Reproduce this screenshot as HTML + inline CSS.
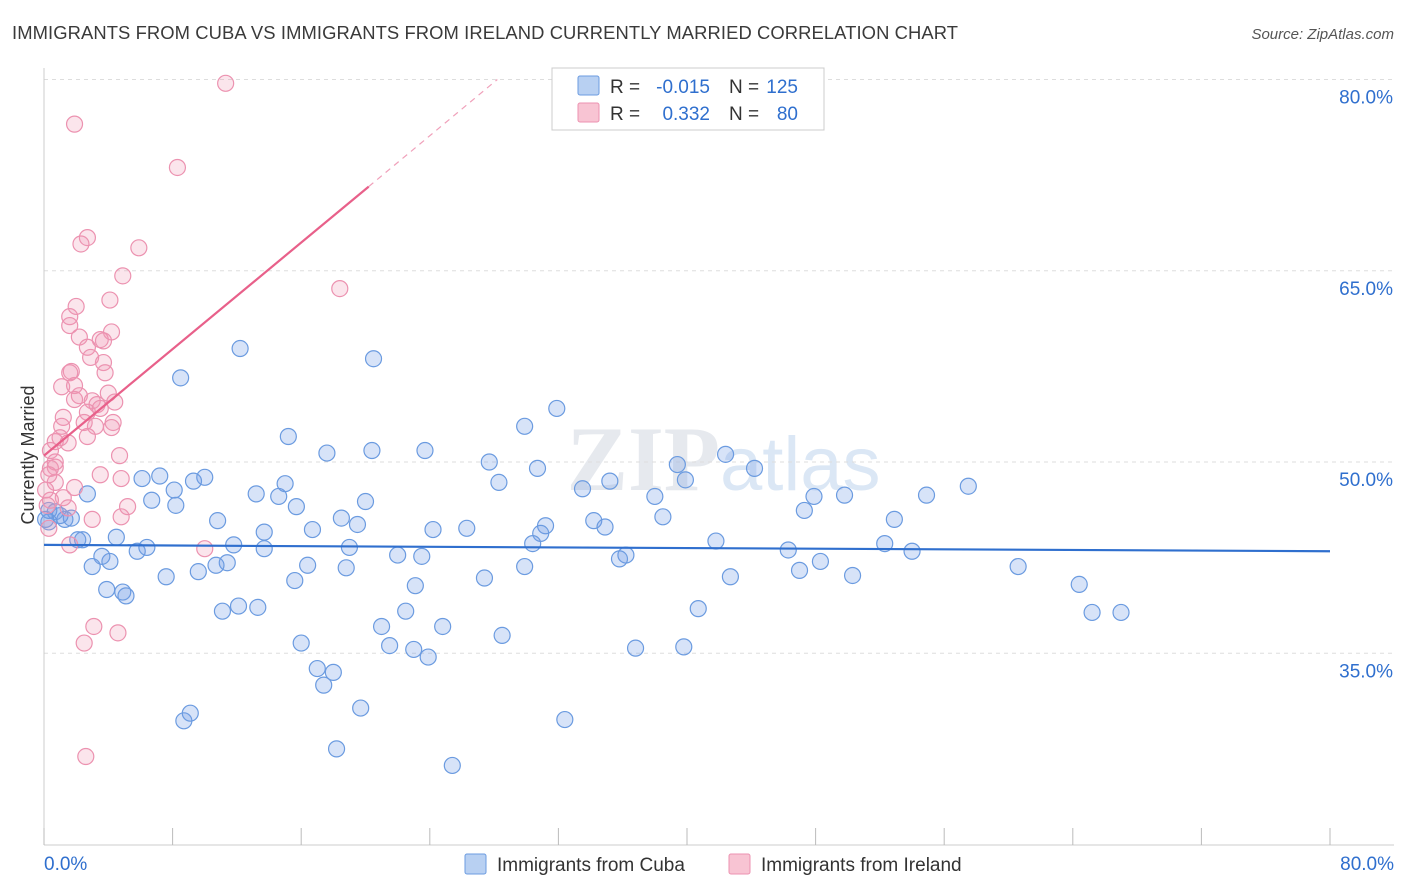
<!DOCTYPE html>
<html><head><meta charset="utf-8"><style>
body{margin:0;background:#fff;font-family:"Liberation Sans",sans-serif;}
svg{display:block}
</style></head><body>
<svg id="chart" width="1406" height="892">
<text x="12" y="39" font-size="18.4" fill="#3a3a3a" textLength="946">IMMIGRANTS FROM CUBA VS IMMIGRANTS FROM IRELAND CURRENTLY MARRIED CORRELATION CHART</text>
<text x="1394" y="39" font-size="15" fill="#555" font-style="italic" text-anchor="end">Source: ZipAtlas.com</text>
<text x="720" y="490" font-size="92" font-weight="bold" fill="#e6e9ee" text-anchor="end" font-family="Liberation Serif,serif">ZIP</text>
<text x="720" y="490" font-size="76" fill="#dbe7f5">atlas</text>
<g id="grid"></g><g id="axes"></g><g id="pts"></g><g id="trend"></g>
<text transform="translate(34,455) rotate(-90)" font-size="18" fill="#333" text-anchor="middle">Currently Married</text>
<g>
<rect x="552" y="68" width="272" height="62" fill="#fff" stroke="#ccc"/>
<rect x="578" y="76" width="21" height="19" fill="#b8d0f2" stroke="#6b9be0" rx="2"/>
<rect x="578" y="103" width="21" height="19" fill="#f8c4d3" stroke="#ec92b0" rx="2"/>
<text x="610" y="93" font-size="19" fill="#333">R =</text>
<text x="710" y="93" font-size="19" fill="#2f6fce" text-anchor="end">-0.015</text>
<text x="729" y="93" font-size="19" fill="#333">N =</text>
<text x="798" y="93" font-size="19" fill="#2f6fce" text-anchor="end">125</text>
<text x="610" y="120" font-size="19" fill="#333">R =</text>
<text x="710" y="120" font-size="19" fill="#2f6fce" text-anchor="end">0.332</text>
<text x="729" y="120" font-size="19" fill="#333">N =</text>
<text x="798" y="120" font-size="19" fill="#2f6fce" text-anchor="end">80</text>
</g>
<g>
<rect x="465" y="854" width="21" height="20" fill="#b8d0f2" stroke="#6b9be0" rx="2"/>
<text x="497" y="871" font-size="19" fill="#333">Immigrants from Cuba</text>
<rect x="729" y="854" width="21" height="20" fill="#f8c4d3" stroke="#ec92b0" rx="2"/>
<text x="761" y="871" font-size="19" fill="#333">Immigrants from Ireland</text>
</g>
</svg>
<script>
const xTicks=[0,8,16,24,32,40,48,56,64,72,80];
const yTicks=[35,50,65,80];
const cubaX=[12.2,8.5,20.5,31.9,15.2,17.6,20.4,23.7,29.9,27.7,30.7,28.3,33.5,35.2,39.4,39.9,42.4,44.2,38.0,38.5,47.9,49.8,54.9,57.5,52.9,47.3,6.1,10.0,9.3,7.2,8.1,8.2,6.7,2.7,13.2,14.6,15.0,15.7,20.0,10.8,16.7,18.5,19.5,24.2,26.3,31.2,30.9,30.4,34.2,34.9,41.8,36.2,35.8,46.3,48.3,52.3,54.0,47.0,50.3,42.7,60.6,64.4,65.2,67.0,40.7,39.8,36.8,32.4,25.4,18.2,19.7,17.4,17.0,18.0,16.0,23.0,21.5,23.9,24.8,21.0,22.5,23.1,22.0,23.5,27.4,29.9,28.5,19.0,18.8,16.4,15.6,13.7,13.7,11.8,11.4,10.7,9.6,7.6,5.8,6.4,4.5,4.1,3.6,3.0,2.4,2.1,1.7,1.3,0.7,0.3,3.9,4.9,5.1,11.1,12.1,13.3,8.7,9.1,0.3,1.0,0.1];
const cubaY=[58.9,56.6,58.1,54.2,52.0,50.7,50.9,50.9,52.8,50.0,49.5,48.4,47.9,48.5,49.8,48.6,50.6,49.5,47.3,45.7,47.3,47.4,47.4,48.1,45.5,46.2,48.7,48.8,48.5,48.9,47.8,46.6,47.0,47.5,47.5,47.3,48.3,46.5,46.9,45.4,44.7,45.6,45.1,44.7,44.8,45.0,44.4,43.6,45.4,44.9,43.8,42.7,42.4,43.1,42.2,43.6,43.0,41.5,41.1,41.0,41.8,40.4,38.2,38.2,38.5,35.5,35.4,29.8,26.2,27.5,30.7,32.5,33.8,33.5,35.8,35.3,35.6,34.7,37.1,37.1,38.3,40.3,42.7,42.6,40.9,41.8,36.4,43.3,41.7,41.9,40.7,44.5,43.2,43.5,42.1,41.9,41.4,41.0,43.0,43.3,44.1,42.2,42.6,41.8,43.9,43.9,45.6,45.5,46.1,45.3,40.0,39.8,39.5,38.3,38.7,38.6,29.7,30.3,46.2,45.8,45.5];
const irelandX=[11.3,1.9,8.3,2.7,2.3,5.9,4.9,18.4,4.1,2.0,1.6,1.6,2.2,4.2,3.5,3.7,2.7,2.9,3.7,1.7,1.6,3.8,1.1,1.9,2.2,3.0,4.0,3.3,4.4,1.9,1.2,2.7,3.5,4.3,3.2,2.5,1.1,1.0,0.7,1.5,2.7,4.7,0.4,0.7,0.4,3.5,4.8,0.7,1.9,1.2,0.4,1.5,3.0,4.8,5.2,1.6,0.3,3.1,4.6,2.5,2.6,10.0,4.2,0.7,0.3,0.1,0.2];
const irelandY=[79.7,76.5,73.1,67.6,67.1,66.8,64.6,63.6,62.7,62.2,61.4,60.7,59.8,60.2,59.6,59.5,59.0,58.2,57.8,57.1,57.0,57.0,55.9,56.0,55.2,54.8,55.4,54.5,54.7,54.9,53.5,53.9,54.2,53.1,52.8,53.1,52.8,51.9,51.6,51.5,52.0,50.5,50.9,49.6,49.5,49.0,48.7,48.4,48.0,47.2,47.0,46.4,45.5,45.7,46.5,43.5,44.8,37.1,36.6,35.8,26.9,43.2,52.7,50.0,49.0,47.8,46.6];
const cubaTrend=[[0,43.5],[80,43.0]];
const irelandTrendSolid=[[0,50.5],[20.2,71.6]];
const irelandTrendDash=[[20.2,71.6],[28.2,80.0]];
const NS="http://www.w3.org/2000/svg";
const X=v=>44+v*16.075, Y=v=>462-(v-50)*12.75;
function mk(t,a,p){const e=document.createElementNS(NS,t);for(const k in a)e.setAttribute(k,a[k]);p.appendChild(e);return e;}
const grid=document.getElementById('grid'),axes=document.getElementById('axes'),pts=document.getElementById('pts'),trend=document.getElementById('trend');
yTicks.forEach(v=>{
 const l=mk('line',{x1:44,x2:1394,y1:Y(v),y2:Y(v),stroke:'#ddd','stroke-dasharray':'4,4'},grid);
 
 
 const t=mk('text',{x:1393,y:Y(v)+24,'font-size':19,fill:'#2f6fce','text-anchor':'end'},axes);
 t.textContent=v.toFixed(1)+'%';
 
 
});
const xa=mk('line',{x1:44,x2:1394,y1:845,y2:845,stroke:'#ccc'},axes);


const ya=mk('line',{x1:44,x2:44,y1:68,y2:845,stroke:'#ccc'},axes);


xTicks.forEach(v=>{
 const l=mk('line',{x1:X(v),x2:X(v),y1:828,y2:845,stroke:'#bbb'},axes);
 
 
});
[[0,'0.0%','start',44],[80,'80.0%','end',1394]].forEach(d=>{
 const t=mk('text',{x:d[3],y:870,'font-size':19,fill:'#2f6fce','text-anchor':d[2]},axes);
 t.textContent=d[1];
 
 
});
cubaX.forEach((v,i)=>{
 const c=mk('circle',{cx:X(v),cy:Y(cubaY[i]),r:8,fill:'rgba(110,155,230,0.28)',stroke:'#6b9be0','stroke-width':1.2},pts);
 
 
});
irelandX.forEach((v,i)=>{
 const c=mk('circle',{cx:X(v),cy:Y(irelandY[i]),r:8,fill:'rgba(240,150,180,0.25)',stroke:'#ec92b0','stroke-width':1.2},pts);
 
 
});
const cl=mk('line',{x1:X(cubaTrend[0][0]),y1:Y(cubaTrend[0][1]),x2:X(cubaTrend[1][0]),y2:Y(cubaTrend[1][1]),stroke:'#2f6fce','stroke-width':2.2},trend);


const il=mk('line',{x1:X(irelandTrendSolid[0][0]),y1:Y(irelandTrendSolid[0][1]),x2:X(irelandTrendSolid[1][0]),y2:Y(irelandTrendSolid[1][1]),stroke:'#e8608a','stroke-width':2.2},trend);


const id=mk('line',{x1:X(irelandTrendDash[0][0]),y1:Y(irelandTrendDash[0][1]),x2:X(irelandTrendDash[1][0]),y2:Y(irelandTrendDash[1][1]),stroke:'#f0a0ba','stroke-width':1.2,'stroke-dasharray':'6,5'},trend);


</script>
</body></html>
